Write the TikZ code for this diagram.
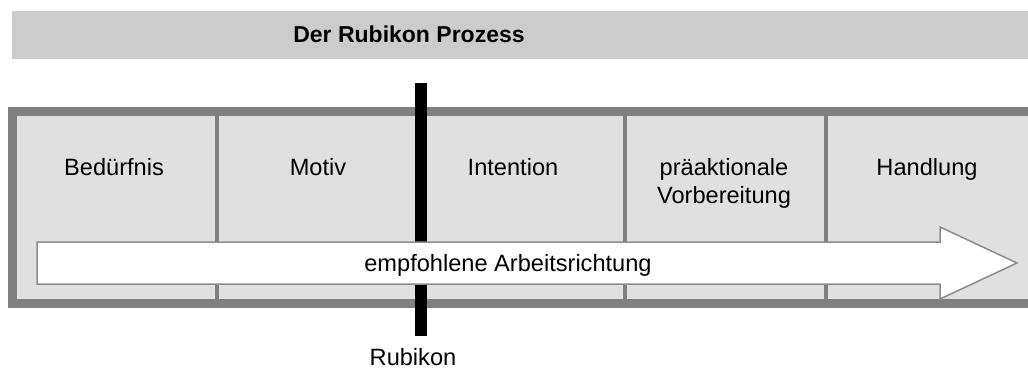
\documentclass[tikz,border=0pt]{standalone}
\usepackage{fontspec}
\setmainfont{Liberation Sans}
\usetikzlibrary{positioning}
\definecolor{balkengrau}{HTML}{CCCCCC}
\definecolor{rahmengrau}{HTML}{808080}
\definecolor{feldgrau}{HTML}{E0E0E0}
\definecolor{pfeilgrau}{HTML}{8C8C8C}

\begin{document}
\begin{tikzpicture}[x=1pt,y=-1pt,node distance=15pt]
	\tikzstyle{every node}=[font=\fontsize{23.6}{28}\selectfont, inner sep=0pt]
	\tikzstyle{stufe}=[align=center, anchor=base]
	\tikzstyle{trenner}=[draw=rahmengrau, line width=4pt]

	\useasboundingbox (0,0) rectangle (1028,369);

	% Titelbalken
	\fill[balkengrau] (12,11) rectangle (1040,59);
	\node[stufe, font=\fontsize{23}{28}\selectfont\bfseries] (titel) at (409,43) {Der Rubikon Prozess};

	% Rahmen mit den Phasen
	\filldraw[fill=feldgrau, draw=rahmengrau, line width=9pt] (12.5,111.5) rectangle (1040,303.5);
	\foreach \x in {217,625,826}
		\draw[trenner] (\x,116) -- (\x,299);

	\node[stufe] (beduerfnis) at (114,175) {Bedürfnis};
	\node[stufe] (motiv)      at (318,175) {Motiv};
	\node[stufe] (intention)  at (513,175) {Intention};
	\node[stufe] (vorber)     at (724,203) {präaktionale\\Vorbereitung};
	\node[stufe] (handlung)   at (927,175) {Handlung};

	% Rubikon
	\coordinate (rubOben)  at (421,83);
	\coordinate (rubUnten) at (421,336);
	\draw[line width=12pt] (rubOben) -- (rubUnten);
	\node[below=12pt of rubUnten, xshift=-8pt] (rubikon) {Rubikon};

	% Arbeitsrichtung
	\filldraw[fill=white, draw=pfeilgrau, line width=1.5pt] (37,242) -- (940,242) -- (940,227) -- (1017,263)
		-- (940,299) -- (940,284) -- (37,284) -- cycle;
	\node[stufe] (richtung) at (508,271) {empfohlene Arbeitsrichtung};

\end{tikzpicture}
\end{document}
